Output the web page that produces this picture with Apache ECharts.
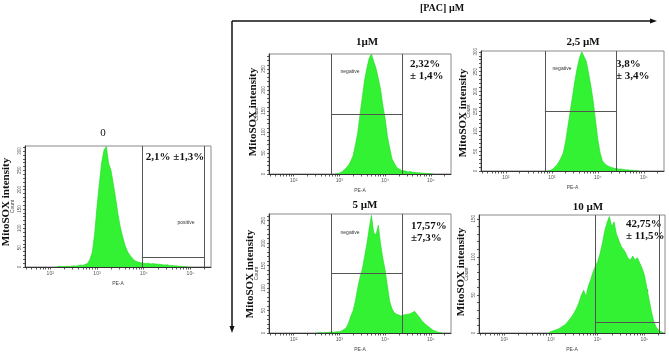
<!DOCTYPE html>
<html>
<head>
<meta charset="utf-8">
<script src="https://cdn.jsdelivr.net/npm/echarts@6/dist/echarts.min.js"></script>
<style>
html,body{margin:0;padding:0;background:#fff;}
#main{width:669px;height:353px;}
</style>
</head>
<body>
<div id="main"></div>
<script>
// histogram bins, log10(PE-A), 0.05 decade wide
var binWidth = 0.05;
var xMin = 1.46, xMax = 5.44;
var xTickLogs = [2, 3, 4, 5];
var xTickLabels = ['10²', '10³', '10⁴', '10⁵'];

var panelNames = ['0', '1µM', '2,5 µM', '5 µM', '10 µM'];
var panelStats = [['2,1% ±1,3%'], ['2,32%', '± 1,4%'], ['3,8%', '± 3,4%'], ['17,57%', '±7,3%'], ['42,75%', '± 11,5%']];
var gateNames = ['positive', 'negative', 'negative', 'negative', 'positive'];
var gateLo = [3.96, 2.82, 2.85, 2.82, 3.95];
var gateHi = [5.30, 4.38, 4.41, 4.38, 5.32];
var gateLevel = [26, 143, 151, 132, 14];
var countMax = [313, 286, 302, 265, 155];
var yTicks = [
    [0, 50, 100, 150, 200, 250, 300],
    [0, 50, 100, 150, 200, 250],
    [0, 50, 100, 150, 200, 250, 300],
    [0, 50, 100, 150, 200, 250],
    [0, 50, 100, 150]
];

// 0 µM
var start0 = 2.15;
var counts0 = [1, 2, 1, 1, 2, 1, 2, 3, 2, 4, 5, 4, 7, 9, 20, 38, 86, 155, 215, 270, 302, 312,
    268, 250, 215, 178, 136, 103, 78, 56, 41, 31, 24, 17, 14, 12, 11, 10, 9, 10, 8, 9, 8, 7, 7,
    6, 5, 6, 4, 4, 3, 3, 2, 2, 1, 1, 0];
// 1 µM
var start1 = 2.90;
var counts1 = [0, 1, 2, 5, 9, 15, 21, 31, 44, 70, 98, 142, 183, 224, 252, 276, 286, 268, 252,
    228, 202, 163, 132, 90, 62, 36, 26, 16, 12, 9, 8, 7, 5, 6, 4, 4, 3, 3, 2, 2, 1, 1, 1, 0];
// 2,5 µM
var start2 = 2.90;
var counts2 = [0, 1, 3, 8, 14, 22, 33, 46, 74, 112, 150, 188, 226, 258, 284, 300, 288, 276, 246,
    214, 176, 128, 80, 46, 26, 18, 14, 11, 9, 7, 6, 5, 5, 4, 3, 3, 2, 2, 1, 1, 0];
// 5 µM
var start3 = 2.50;
var counts3 = [0, 1, 1, 0, 1, 1, 2, 2, 2, 3, 3, 5, 8, 12, 22, 38, 50, 72, 100, 124, 142, 170, 198,
    232, 262, 224, 218, 240, 198, 166, 140, 104, 70, 54, 45, 42, 40, 38, 40, 41, 42, 43, 46, 48,
    41, 35, 28, 22, 18, 14, 10, 6, 4, 2, 1, 0];
// 10 µM
var start4 = 2.95;
var counts4 = [0, 2, 3, 4, 5, 7, 9, 11, 14, 18, 22, 27, 33, 40, 50, 56, 48, 62, 70, 80, 88, 94,
    104, 118, 134, 145, 153, 140, 146, 130, 122, 114, 110, 105, 98, 96, 101, 96, 99, 92, 85, 76,
    60, 44, 28, 15, 8, 4, 2, 0];

var starts = [start0, start1, start2, start3, start4];
var counts = [counts0, counts1, counts2, counts3, counts4];

// layout (pixels)
var grids = [
    {left: 25, top: 146, width: 186, height: 121},
    {left: 269, top: 54, width: 182, height: 120},
    {left: 481, top: 51, width: 183, height: 120},
    {left: 269, top: 214, width: 182, height: 120},
    {left: 479, top: 215, width: 186, height: 121}
];
var titlePos = [[103, 133], [367, 42], [583, 42], [365, 205], [588, 207]];
var statPos = [[175, 157, 'center'], [410, 64, 'left'], [616, 64, 'left'], [411, 226, 'left'], [626, 224, 'left']];
var mitoPos = [[6, 202], [253, 112], [463, 113], [250, 274], [461, 272]];
var gateLabelPos = [[186, 223], [350, 72], [562, 69], [350, 233], [640, 291]];

var minorLogs = [];
for (var d = 1; d <= 5; d++) {
    for (var m = 1; m <= 9; m++) {
        var v = d + Math.log10(m);
        if (v >= xMin && v <= xMax) minorLogs.push(v);
    }
}

var serif = '"Liberation Serif", "DejaVu Serif", serif';
var sans = '"Liberation Sans", Arial, sans-serif';
var green = '#33f133';

var option = {
    animation: false,
    backgroundColor: '#fff',
    grid: [], xAxis: [], yAxis: [], series: [],
    graphic: []
};

for (var i = 0; i < 5; i++) {
    var g = grids[i];
    option.grid.push({left: g.left, top: g.top, width: g.width, height: g.height,
        show: true, borderColor: '#8a8a8a', borderWidth: 1, backgroundColor: 'transparent'});
    option.xAxis.push({
        type: 'value', gridIndex: i, min: xMin, max: xMax,
        name: 'PE-A', nameLocation: 'middle', nameGap: 14,
        nameTextStyle: {fontSize: 5, color: '#444', fontFamily: sans},
        axisLine: {show: true, onZero: false, lineStyle: {color: '#333', width: 1}},
        axisTick: {show: true, customValues: minorLogs, length: 2.5, lineStyle: {color: '#333', width: 0.8}},
        axisLabel: {customValues: xTickLogs, fontSize: 5, color: '#555', margin: 4, fontFamily: sans,
            formatter: function (v) { return xTickLabels[xTickLogs.indexOf(Math.round(v))]; }},
        splitLine: {show: false}
    });
    var minorY = [];
    for (var c = 0; c <= countMax[i]; c += 10) minorY.push(c);
    option.yAxis.push({
        type: 'value', gridIndex: i, min: 0, max: countMax[i],
        name: 'Count', nameLocation: 'middle', nameGap: 10, nameRotate: 90,
        nameTextStyle: {fontSize: 5, color: '#444', fontFamily: sans},
        axisLine: {show: true, lineStyle: {color: '#333', width: 1}},
        axisTick: {show: true, customValues: minorY, length: 2, lineStyle: {color: '#333', width: 0.8}},
        axisLabel: {customValues: yTicks[i], rotate: 90, fontSize: 4.5, color: '#555', margin: 3, fontFamily: sans},
        splitLine: {show: false}
    });
    var pts = counts[i].map(function (v, k) { return [starts[i] + k * binWidth, v]; });
    option.series.push({
        type: 'line', xAxisIndex: i, yAxisIndex: i, data: pts,
        symbol: 'none', smooth: false,
        lineStyle: {color: '#22d822', width: 0.6},
        areaStyle: {color: green, opacity: 1},
        markLine: {
            silent: true, symbol: 'none', label: {show: false},
            lineStyle: {color: '#555', width: 1, type: 'solid'},
            data: [
                [{coord: [gateLo[i], 0]}, {coord: [gateLo[i], countMax[i]]}],
                [{coord: [gateHi[i], 0]}, {coord: [gateHi[i], countMax[i]]}],
                [{coord: [gateLo[i], gateLevel[i]]}, {coord: [gateHi[i], gateLevel[i]]}]
            ]
        }
    });

    option.graphic.push({type: 'text', x: titlePos[i][0], y: titlePos[i][1],
        style: {text: panelNames[i], font: (i === 0 ? 'normal ' : 'bold ') + '11px ' + serif,
            fill: '#111', textAlign: 'center', textVerticalAlign: 'middle'}});
    for (var s = 0; s < panelStats[i].length; s++) {
        option.graphic.push({type: 'text', x: statPos[i][0], y: statPos[i][1] + s * 12,
            style: {text: panelStats[i][s], font: 'bold 11px ' + serif, fill: '#111',
                textAlign: statPos[i][2], textVerticalAlign: 'middle'}});
    }
    option.graphic.push({type: 'text', x: mitoPos[i][0], y: mitoPos[i][1], rotation: Math.PI / 2,
        style: {text: 'MitoSOX intensity', font: 'bold 11px ' + serif, fill: '#111',
            textAlign: 'center', textVerticalAlign: 'middle'}});
    option.graphic.push({type: 'text', x: gateLabelPos[i][0], y: gateLabelPos[i][1],
        style: {text: gateNames[i], font: '5px ' + sans, fill: '#333',
            textAlign: 'center', textVerticalAlign: 'middle'}});
}

// [PAC] arrows
option.graphic.push(
    {type: 'text', x: 442, y: 8, style: {text: '[PAC] µM', font: 'bold 10px ' + serif, fill: '#111',
        textAlign: 'center', textVerticalAlign: 'middle'}},
    {type: 'line', shape: {x1: 232, y1: 21, x2: 652, y2: 21}, style: {stroke: '#111', lineWidth: 1.5}},
    {type: 'polygon', shape: {points: [[650, 18.5], [657, 21], [650, 23.5]]}, style: {fill: '#111'}},
    {type: 'line', shape: {x1: 232, y1: 21, x2: 232, y2: 328}, style: {stroke: '#111', lineWidth: 1.5}},
    {type: 'polygon', shape: {points: [[229.5, 326], [232, 333], [234.5, 326]]}, style: {fill: '#111'}}
);

var chart = echarts.init(document.getElementById('main'));
chart.setOption(option);
window.onresize = chart.resize;
</script>
</body>
</html>
